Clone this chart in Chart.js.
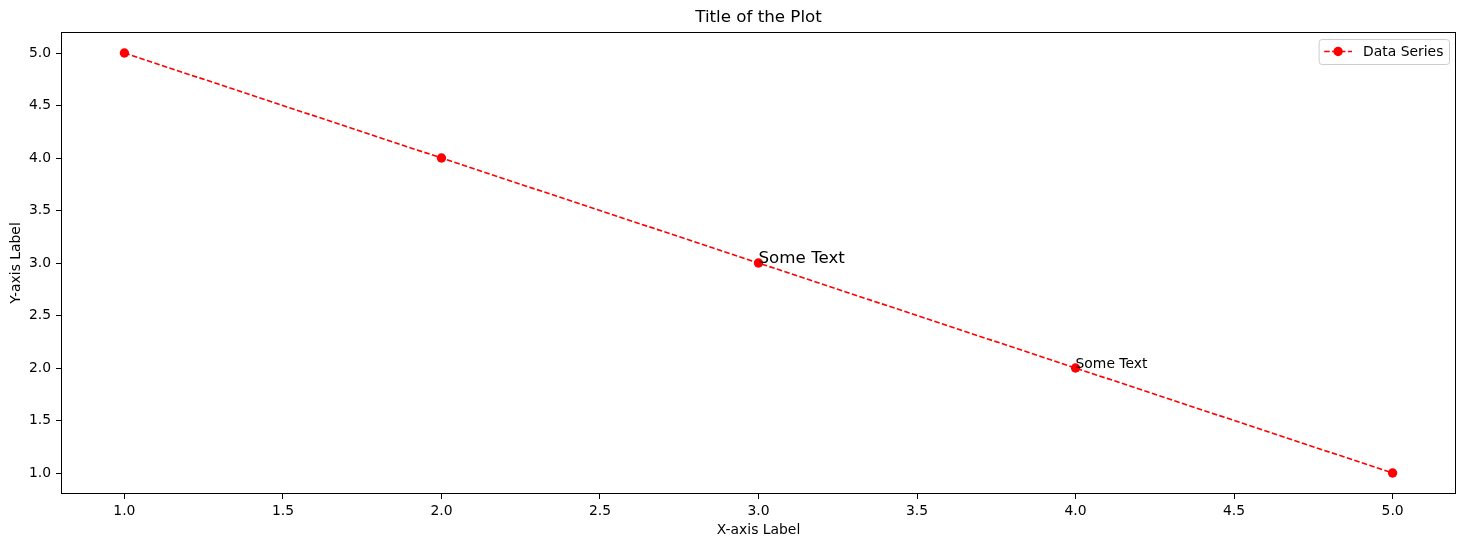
<!DOCTYPE html>
<html>
<head>
<meta charset="utf-8">
<script src="https://cdn.jsdelivr.net/npm/chart.js@4"></script>
<style>
  html, body { margin: 0; padding: 0; background: #fff; }
  #wrap { width: 1466px; height: 547px; }
</style>
</head>
<body>
<div id="wrap"><canvas id="chart" width="1466" height="547"></canvas></div>
<script>
// datos
const xValues = [1, 2, 3, 4, 5];
const yValues = [5, 4, 3, 2, 1];
const xTicks = [1.0, 1.5, 2.0, 2.5, 3.0, 3.5, 4.0, 4.5, 5.0];
const yTicks = [1.0, 1.5, 2.0, 2.5, 3.0, 3.5, 4.0, 4.5, 5.0];
const annotX = [3, 4];
const annotY = [3, 2];
const annotText = ['Some Text', 'Some Text'];

const FONT = 'DejaVu Sans';
const RED = '#ff0000';
const DASH = [5.5, 2.4];
const DOT = 4.7;

// marco del área del gráfico
const framePlugin = {
    id: 'frame',
    afterDraw(chart) {
        const { ctx, chartArea: a } = chart;
        ctx.save();
        ctx.strokeStyle = '#000';
        ctx.lineWidth = 1;
        ctx.strokeRect(Math.round(a.left) + 0.5, Math.round(a.top) + 0.5,
            Math.round(a.right - a.left) - 1, Math.round(a.bottom - a.top) - 1);
        ctx.restore();
    }
};

// textos anotados sobre los puntos
const annotPlugin = {
    id: 'annot',
    afterDatasetsDraw(chart) {
        const { ctx, scales } = chart;
        const sizes = [16.7, 13.9];
        ctx.save();
        ctx.fillStyle = '#000';
        ctx.textAlign = 'left';
        ctx.textBaseline = 'alphabetic';
        annotText.forEach((t, i) => {
            ctx.font = `${sizes[i]}px "${FONT}"`;
            ctx.fillText(t, scales.x.getPixelForValue(annotX[i]), scales.y.getPixelForValue(annotY[i]));
        });
        ctx.restore();
    }
};

// leyenda estilo matplotlib
const legendPlugin = {
    id: 'mplLegend',
    afterDraw(chart) {
        const { ctx, chartArea: a } = chart;
        const label = chart.data.datasets[0].label;
        ctx.save();
        ctx.font = `13.9px "${FONT}"`;
        const tw = ctx.measureText(label).width;
        const pad = 5.6, handle = 27.8, gap = 11.1, h = 25;
        const w = pad + handle + gap + tw + pad;
        const x0 = a.right - 7 - w, y0 = a.top + 7;
        ctx.beginPath();
        ctx.roundRect(x0 + 0.5, y0 + 0.5, w, h, 3);
        ctx.fillStyle = 'rgba(255,255,255,0.8)';
        ctx.fill();
        ctx.strokeStyle = '#cccccc';
        ctx.lineWidth = 1;
        ctx.stroke();
        const cy = y0 + h / 2;
        ctx.strokeStyle = RED;
        ctx.lineWidth = 1.6;
        ctx.setLineDash(DASH);
        ctx.beginPath();
        ctx.moveTo(x0 + pad, cy);
        ctx.lineTo(x0 + pad + handle, cy);
        ctx.stroke();
        ctx.setLineDash([]);
        ctx.fillStyle = RED;
        ctx.beginPath();
        ctx.arc(x0 + pad + handle / 2, cy, DOT, 0, Math.PI * 2);
        ctx.fill();
        ctx.fillStyle = '#000';
        ctx.textBaseline = 'middle';
        ctx.fillText(label, x0 + pad + handle + gap, cy + 0.5);
        ctx.restore();
    }
};

const ctx = document.getElementById('chart').getContext('2d');
new Chart(ctx, {
    type: 'line',
    data: {
        datasets: [{
            label: 'Data Series',
            data: xValues.map((x, i) => ({ x: x, y: yValues[i] })),
            borderColor: RED,
            backgroundColor: RED,
            borderWidth: 1.6,
            borderDash: DASH,
            pointRadius: DOT,
            pointHoverRadius: DOT,
            pointBorderWidth: 0,
            pointBackgroundColor: RED,
            tension: 0,
            fill: false
        }]
    },
    options: {
        responsive: false,
        animation: false,
        devicePixelRatio: 1,
        layout: { padding: { left: 0, right: 10, top: 0, bottom: 0 } },
        plugins: {
            legend: { display: false },
            tooltip: { enabled: false },
            title: {
                display: true,
                fullSize: false,
                text: 'Title of the Plot',
                color: '#000',
                font: { family: FONT, size: 16.7, weight: 'normal' },
                padding: { top: 8, bottom: 4 }
            }
        },
        scales: {
            x: {
                type: 'linear',
                min: 0.8,
                max: 5.2,
                afterBuildTicks: s => { s.ticks = xTicks.map(v => ({ value: v })); },
                afterFit: s => { s.height = 53; },
                grid: { drawOnChartArea: false, drawTicks: true, tickLength: 5, tickColor: '#000', tickWidth: 1 },
                border: { display: false },
                ticks: {
                    color: '#000',
                    padding: 4,
                    maxRotation: 0,
                    autoSkip: false,
                    font: { family: FONT, size: 13.9 },
                    callback: v => v.toFixed(1)
                },
                title: {
                    display: true,
                    text: 'X-axis Label',
                    color: '#000',
                    font: { family: FONT, size: 13.9 },
                    padding: { top: 0, bottom: 8 }
                }
            },
            y: {
                min: 0.8,
                max: 5.2,
                afterBuildTicks: s => { s.ticks = yTicks.map(v => ({ value: v })); },
                afterFit: s => { s.width = 61; },
                grid: { drawOnChartArea: false, drawTicks: true, tickLength: 5, tickColor: '#000', tickWidth: 1 },
                border: { display: false },
                ticks: {
                    color: '#000',
                    padding: 5,
                    autoSkip: false,
                    font: { family: FONT, size: 13.9 },
                    callback: v => v.toFixed(1)
                },
                title: {
                    display: true,
                    text: 'Y-axis Label',
                    color: '#000',
                    font: { family: FONT, size: 13.9 },
                    padding: { top: 8, bottom: 0 }
                }
            }
        }
    },
    plugins: [framePlugin, annotPlugin, legendPlugin]
});
</script>
</body>
</html>
